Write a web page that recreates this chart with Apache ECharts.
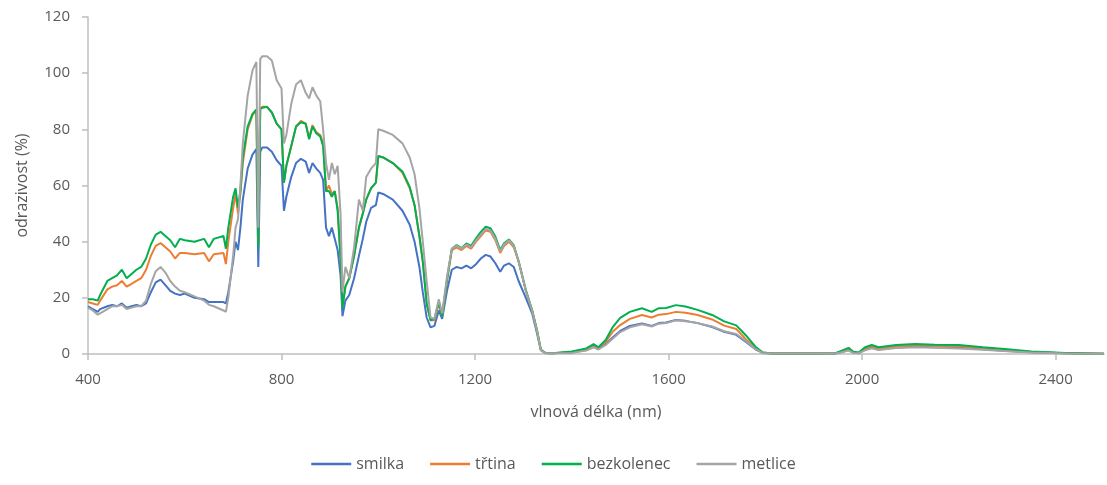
<!DOCTYPE html>
<html>
<head>
<meta charset="utf-8">
<script src="https://cdn.jsdelivr.net/npm/echarts@6/dist/echarts.min.js"></script>
<style>
  html, body { margin: 0; padding: 0; background: #fff; }
  #main { width: 1107px; height: 485px; }
</style>
</head>
<body>
<div id="main"></div>
<script>
// vlnové délky (nm)
const wavelengths = [
  400, 410, 420, 425, 440, 450, 460, 470, 480, 490, 500, 510, 520, 530, 540, 550, 560, 570, 580, 590,
  600, 620, 640, 650, 660, 680, 685, 690, 700, 705, 710, 715, 720, 730, 740, 748, 752, 756, 760, 770,
  780, 790, 800, 805, 810, 820, 830, 840, 850, 857, 864, 872, 880, 886, 892, 898, 904, 910, 916, 922,
  926, 932, 940, 950, 960, 968, 975, 985, 995, 1000, 1010, 1030, 1050, 1065, 1075, 1085, 1092, 1100, 1108, 1116,
  1125, 1132, 1142, 1152, 1162, 1172, 1182, 1192, 1202, 1212, 1222, 1232, 1242, 1252, 1260, 1270, 1280, 1290, 1305, 1318,
  1328, 1336, 1345, 1360, 1400, 1430, 1445, 1455, 1470, 1485, 1500, 1520, 1545, 1565, 1580, 1595, 1615, 1635, 1660, 1690,
  1715, 1740, 1760, 1780, 1795, 1815, 1900, 1945, 1958, 1972, 1982, 1993, 2006, 2020, 2034, 2070, 2110, 2150, 2200, 2250,
  2300, 2350, 2420, 2500
];

const smilka = [
  17, 16, 15, 16, 17, 17.5, 17, 18, 16.5, 17, 17.5, 17, 18, 22, 25.5, 26.5, 24.5, 22.5, 21.5, 21,
  21.5, 20, 19.5, 18.5, 18.5, 18.5, 18, 22, 33, 40, 37, 45, 55, 66, 71, 73, 31, 72, 73.5, 73.5,
  72, 69, 67, 51, 56, 63, 68, 69.5, 68.5, 64.5, 68, 66, 64.5, 62, 45, 42, 45, 41, 37, 28,
  13.5, 19, 21, 27, 35, 41, 47, 52, 53, 57.5, 57, 55, 51, 46, 40, 31, 22, 13, 9.5, 10,
  15.5, 12.5, 22.5, 30, 31, 30.5, 31.5, 30.5, 32, 34, 35.3, 34.7, 32.3, 29.3, 31.5, 32.3, 31, 26, 20, 14.5,
  7.4, 1.4, 0.4, 0.3, 0.5, 1.4, 2.7, 1.8, 3.5, 6, 8.2, 10, 10.9, 10, 11, 11.2, 12.1, 11.8, 11, 9.6,
  7.9, 6.8, 4.3, 1.6, 0.4, 0.2, 0.2, 0.2, 0.7, 1.4, 0.5, 0.3, 1.5, 2.2, 1.6, 2.3, 2.6, 2.4, 2.2, 1.7,
  1.1, 0.6, 0.3, 0.1
];

const trtina = [
  18.5, 18, 17.5, 19, 23, 24, 24.5, 26, 24, 25, 26, 27, 30, 35, 38.5, 39.5, 38, 36.5, 34, 36,
  36, 35.5, 36, 33, 35.5, 36, 32, 40, 52, 57, 50, 57, 68, 80, 85, 87, 40, 87, 88, 88,
  86, 82, 80, 61, 67, 74, 81, 83, 82, 77, 81.5, 79, 78, 75, 58, 60, 57, 58, 52, 34,
  17, 24, 27, 35, 45, 50, 55, 59, 61, 70.5, 70, 68, 64.5, 59, 53, 42, 33, 18, 12, 12,
  18, 13.5, 26, 37, 38, 37, 38.5, 37.5, 40, 42, 44, 43.5, 40.5, 36, 38.5, 40, 38, 33, 22.5, 15.5,
  8.5, 1.5, 0.4, 0.3, 0.7, 1.8, 3.2, 2.2, 4.3, 8, 10.3, 12.5, 13.9, 13, 14, 14.2, 15, 14.7, 13.9, 12.3,
  10.1, 8.9, 5.2, 2.2, 0.5, 0.2, 0.2, 0.3, 0.9, 1.8, 0.6, 0.4, 1.9, 2.7, 2, 2.8, 3.1, 2.9, 2.8, 2.1,
  1.4, 0.7, 0.3, 0.1
];

const bezkolenec = [
  19.5, 19.5, 19, 21, 26, 27, 28, 30, 27, 28.5, 30, 31, 34, 39, 42.5, 43.5, 42, 40.5, 38, 41,
  40.5, 40, 41, 38, 41, 42, 37.5, 45, 56, 59, 52, 58, 70, 81, 85.5, 87, 38, 87.5, 88, 88,
  86, 82, 80, 61, 67, 74, 81, 82.5, 82, 76.5, 81, 78.5, 77.5, 74, 58, 58, 56, 58, 51, 34,
  16.5, 24, 27, 35, 45, 50, 55, 59, 61, 70.5, 70, 68, 65, 59.5, 53, 42, 33, 18, 12, 12.5,
  18.5, 13.5, 26.5, 37.5, 38.8, 37.7, 39.4, 38.5, 41.2, 43.5, 45.3, 44.8, 41.8, 37, 39.4, 40.8, 38.8, 33, 22.8, 15.6,
  8.5, 1.5, 0.4, 0.3, 0.9, 2, 3.5, 2.4, 5, 9.7, 12.9, 15, 16.3, 15, 16.3, 16.4, 17.4, 16.9, 15.7, 13.9,
  11.6, 10.2, 6.6, 2.5, 0.5, 0.2, 0.2, 0.3, 1.2, 2.2, 0.8, 0.5, 2.4, 3.2, 2.4, 3.2, 3.6, 3.3, 3.2, 2.4,
  1.7, 0.9, 0.4, 0.1
];

const metlice = [
  16.5, 15.5, 14, 14.5, 16, 17, 17, 17.5, 16, 16.5, 17, 17, 19, 25, 29.5, 31, 29, 26, 24, 22.5,
  22, 20.5, 19, 17.5, 17, 15.5, 15, 20, 35, 45, 48, 60, 75, 92, 101, 104, 45, 105, 106, 106,
  104.5, 97.5, 94.5, 75, 78, 89, 96, 97.5, 93, 91, 95, 92, 90, 80, 68, 62, 68, 64, 67, 50,
  22, 31, 27, 38, 55, 51, 63, 66, 68, 80, 79.5, 78, 75, 70, 64, 52, 40, 26, 13, 12.5,
  19.5, 14.5, 27.5, 37.5, 38.5, 37.5, 39, 38, 40.5, 42.5, 44.5, 44, 41, 36.5, 39, 40.5, 38.5, 33, 22.5, 15.5,
  8.2, 1.4, 0.3, 0.3, 0.4, 1.2, 2.4, 1.6, 3.2, 5.5, 7.8, 9.5, 10.6, 9.8, 10.8, 11, 12, 11.7, 11, 9.8,
  8.1, 7.1, 4.6, 1.7, 0.4, 0.2, 0.2, 0.2, 0.6, 1.2, 0.4, 0.3, 1.3, 2, 1.4, 2.1, 2.4, 2.2, 2, 1.5,
  1, 0.5, 0.2, 0.1
];

const seriesNames = ['smilka', 'třtina', 'bezkolenec', 'metlice'];
const seriesColors = ['#4472C4', '#ED7D31', '#00B050', '#A5A5A5'];
const xTicks = [400, 800, 1200, 1600, 2000, 2400];

const font = "'Open Sans', 'DejaVu Sans', sans-serif";
const textColor = '#595959';
const axisColor = '#BFBFBF';

const chart = echarts.init(document.getElementById('main'));

function pairs(values) {
  return wavelengths.map((w, i) => [w, values[i]]);
}

const allValues = [smilka, trtina, bezkolenec, metlice];

chart.setOption({
  animation: false,
  textStyle: { fontFamily: font },
  grid: { left: 88, right: 3, top: 17, bottom: 131, containLabel: false },
  legend: {
    bottom: 8,
    left: 'center',
    icon: 'rect',
    itemWidth: 40,
    itemHeight: 2.5,
    itemGap: 26,
    textStyle: { color: textColor, fontSize: 16, fontFamily: font },
    data: seriesNames
  },
  xAxis: {
    type: 'value',
    min: 400,
    max: 2500,
    interval: 400,
    name: 'vlnová délka (nm)',
    nameLocation: 'middle',
    nameGap: 50,
    nameTextStyle: { color: textColor, fontSize: 16, fontFamily: font },
    axisLine: { show: true, lineStyle: { color: axisColor, width: 1.5 } },
    axisTick: { show: true, length: 6, lineStyle: { color: axisColor, width: 1.5 }, customValues: xTicks },
    axisLabel: {
      color: textColor, fontSize: 15, margin: 18, customValues: xTicks,
      formatter: v => String(v)
    },
    splitLine: { show: false }
  },
  yAxis: {
    type: 'value',
    min: 0,
    max: 120,
    interval: 20,
    name: 'odrazivost (%)',
    nameLocation: 'middle',
    nameGap: 58,
    nameRotate: 90,
    nameTextStyle: { color: textColor, fontSize: 16, fontFamily: font },
    axisLine: { show: true, lineStyle: { color: axisColor, width: 1.5 } },
    axisTick: { show: true, inside: false, length: 6, lineStyle: { color: axisColor, width: 1.5 } },
    axisLabel: { color: textColor, fontSize: 15, margin: 18, formatter: v => String(v) },
    splitLine: { show: false }
  },
  series: seriesNames.map((name, i) => ({
    name: name,
    type: 'line',
    data: pairs(allValues[i]),
    symbol: 'none',
    showSymbol: false,
    smooth: false,
    color: seriesColors[i],
    lineStyle: { color: seriesColors[i], width: 2 }
  }))
});
</script>
</body>
</html>
